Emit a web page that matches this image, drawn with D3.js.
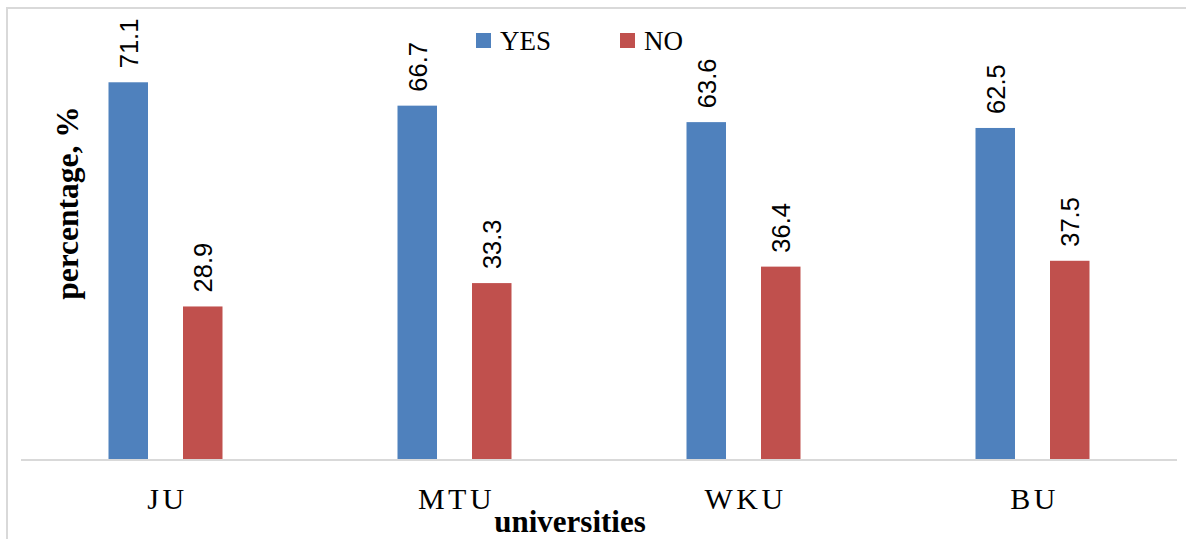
<!DOCTYPE html>
<html>
<head>
<meta charset="utf-8">
<script src="https://cdn.jsdelivr.net/npm/d3@7"></script>
<style>
  html, body { margin: 0; padding: 0; background: #fff; }
  svg { display: block; }
</style>
</head>
<body>
<svg id="chart" width="1186" height="539"></svg>
<script>
// Survey answers by university (percent)
const universities = ["JU", "MTU", "WKU", "BU"];
const seriesNames = ["YES", "NO"];
const yesValues = [71.1, 66.7, 63.6, 62.5];
const noValues = [28.9, 33.3, 36.4, 37.5];
const seriesColors = ["#4F81BD", "#C0504D"];

const svg = d3.select("#chart");
const W = 1186, H = 539;

const plot = { left: 21, right: 1177, top: 35, bottom: 460 };

// frame (top and left edges)
svg.append("path")
  .attr("d", `M7,${H} L7,8 L${W},8`)
  .attr("fill", "none")
  .attr("stroke", "#d9d9d9")
  .attr("stroke-width", 2);

const x0 = d3.scaleBand()
  .domain(universities)
  .range([plot.left, plot.right])
  .paddingInner(0)
  .paddingOuter(0);

const y = d3.scaleLinear()
  .domain([0, 80])
  .range([plot.bottom, plot.top]);

const barW = 39.5;
const pairGap = 35;
const x1 = d3.scaleOrdinal()
  .domain(seriesNames)
  .range([-(pairGap / 2 + barW), pairGap / 2]);

const rows = universities.map((u, i) => ({
  uni: u,
  values: [
    { key: "YES", value: yesValues[i] },
    { key: "NO", value: noValues[i] }
  ]
}));
const color = d3.scaleOrdinal().domain(seriesNames).range(seriesColors);

const groups = svg.append("g").selectAll("g")
  .data(rows)
  .join("g")
  .attr("transform", d => `translate(${x0(d.uni) + x0.bandwidth() / 2},0)`);

groups.selectAll("rect")
  .data(d => d.values)
  .join("rect")
  .attr("x", d => x1(d.key))
  .attr("y", d => y(d.value))
  .attr("width", barW)
  .attr("height", d => y(0) - y(d.value))
  .attr("fill", d => color(d.key));

// value labels, rotated
groups.selectAll("text.val")
  .data(d => d.values)
  .join("text")
  .attr("class", "val")
  .attr("transform", d => `translate(${x1(d.key) + barW / 2 + 9.5},${y(d.value) - 14}) rotate(-90)`)
  .attr("font-family", "'Liberation Sans', Arial, sans-serif")
  .attr("font-size", 25.5)
  .attr("fill", "#000")
  .text(d => d.value.toFixed(1));

// baseline
svg.append("line")
  .attr("x1", plot.left).attr("x2", plot.right)
  .attr("y1", y(0)).attr("y2", y(0))
  .attr("stroke", "#d9d9d9")
  .attr("stroke-width", 2);

// category axis labels
const xAxis = d3.axisBottom(x0).tickSize(0).tickPadding(0);
const axisG = svg.append("g")
  .attr("transform", `translate(0,${y(0)})`)
  .call(xAxis);
axisG.select(".domain").remove();
axisG.selectAll("text")
  .attr("y", 49)
  .attr("dy", 0)
  .attr("dx", 2)
  .attr("font-family", "'Liberation Serif', 'Times New Roman', serif")
  .attr("font-size", 30)
  .attr("letter-spacing", 3.5)
  .attr("fill", "#000");

// axis titles
svg.append("text")
  .attr("x", 570)
  .attr("y", 532)
  .attr("text-anchor", "middle")
  .attr("font-family", "'Liberation Serif', 'Times New Roman', serif")
  .attr("font-weight", "bold")
  .attr("font-size", 31)
  .attr("fill", "#000")
  .text("universities");

svg.append("text")
  .attr("transform", "translate(78,203) rotate(-90)")
  .attr("text-anchor", "middle")
  .attr("font-family", "'Liberation Serif', 'Times New Roman', serif")
  .attr("font-weight", "bold")
  .attr("font-size", 31.5)
  .attr("fill", "#000")
  .text("percentage, %");

// legend
const legendX = [476, 620];
const legend = svg.append("g").selectAll("g")
  .data(seriesNames)
  .join("g")
  .attr("transform", (d, i) => `translate(${legendX[i]},33)`);
legend.append("rect")
  .attr("width", 15).attr("height", 15)
  .attr("fill", d => color(d));
legend.append("text")
  .attr("x", 24)
  .attr("y", 17)
  .attr("font-family", "'Liberation Serif', 'Times New Roman', serif")
  .attr("font-size", 27)
  .attr("fill", "#000")
  .text(d => d);
</script>
</body>
</html>
